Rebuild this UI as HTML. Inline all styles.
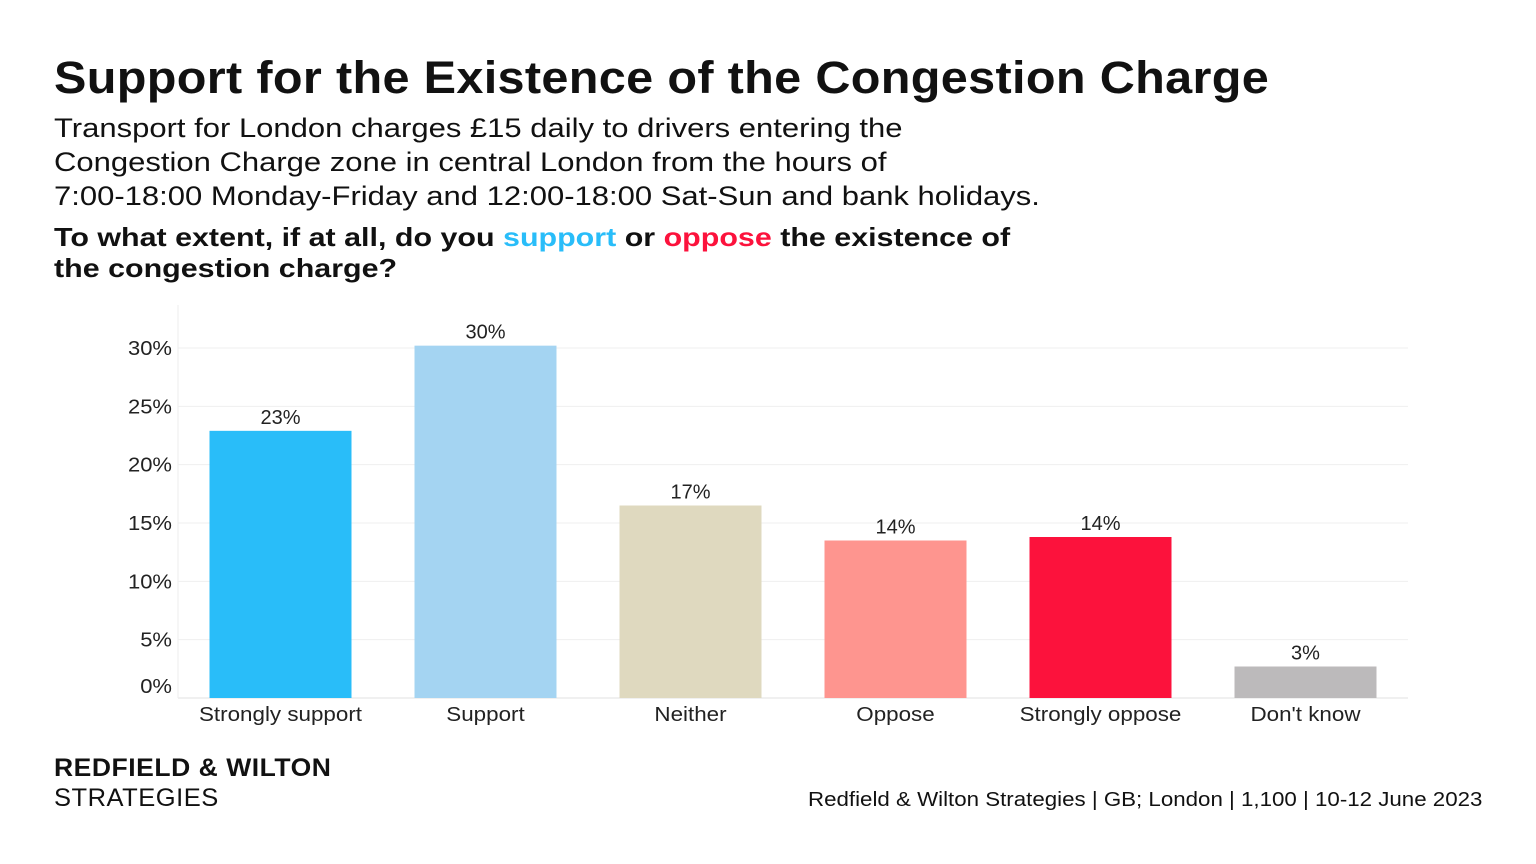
<!DOCTYPE html>
<html><head><meta charset="utf-8">
<style>
body{margin:0;width:1536px;height:864px;background:#fff;font-family:"Liberation Sans",sans-serif;color:#111;position:relative;overflow:hidden}
.t{position:absolute;left:54px;white-space:nowrap;transform-origin:0 0}
</style></head><body>
<div class="t" style="top:52px;font-size:45px;font-weight:bold;letter-spacing:0.3px;transform:scaleX(1.08)">Support for the Existence of the Congestion Charge</div>
<div class="t" style="top:111px;font-size:26.5px;line-height:34px;transform:scaleX(1.17)">Transport for London charges £15 daily to drivers entering the<br>Congestion Charge zone in central London from the hours of<br>7:00-18:00 Monday-Friday and 12:00-18:00 Sat-Sun and bank holidays.</div>
<div class="t" style="top:222px;font-size:26px;font-weight:bold;line-height:31px;transform:scaleX(1.17)">To what extent, if at all, do you <span style="color:#29bdf9">support</span> or <span style="color:#fc123c">oppose</span> the existence of<br>the congestion charge?</div>
<svg id="chart" width="1536" height="864" style="position:absolute;left:0;top:0"></svg>
<div class="t" style="top:754px;font-size:25px;font-weight:bold;letter-spacing:0.5px;transform:scaleX(1.06)">REDFIELD &amp; WILTON</div>
<div class="t" style="top:784px;font-size:25px;letter-spacing:0.5px;transform:scaleX(1.02)">STRATEGIES</div>
<div class="t" style="left:808px;top:789px;font-size:20px;transform:scaleX(1.115)">Redfield &amp; Wilton Strategies | GB; London | 1,100 | 10-12 June 2023</div>
<script>
const categories=["Strongly support","Support","Neither","Oppose","Strongly oppose","Don't know"];
const values=[22.9,30.2,16.5,13.5,13.8,2.7];
const labels=["23%","30%","17%","14%","14%","3%"];
const colors=["#29bdf9","#a4d4f2","#dfd9bf","#fe958f","#fc123c","#bcbabb"];
const ticks=[0,5,10,15,20,25,30];
const NS="http://www.w3.org/2000/svg";
const svg=document.getElementById('chart');
const x0=178,x1=1408,yB=698,yT=348;
const y=v=>yB-(v/30)*(yB-yT);
const band=(x1-x0)/categories.length;
const cx=i=>x0+band*(i+0.5);
function mk(t,a){const e=document.createElementNS(NS,t);for(const k in a)e.setAttribute(k,a[k]);svg.appendChild(e);return e;}
ticks.forEach(t=>{
 const g=mk('line',{x1:x0,x2:x1,y1:y(t),y2:y(t),stroke:t===0?'#e0e0e0':'#efefef','stroke-width':1});
 
 
 const ty=t===0?y(t)-5:y(t)+7;
 const l=mk('text',{x:172,y:ty,'text-anchor':'end','font-size':20,fill:'#222','font-family':'Liberation Sans','transform':`translate(172,0) scale(1.1,1) translate(-172,0)`});
 l.textContent=t+'%';
 
 
});
const ax=mk('line',{x1:x0,x2:x0,y1:305,y2:yB,stroke:'#eee'});


categories.forEach((c,i)=>{
 const w=142;
 const r=mk('rect',{x:cx(i)-w/2,y:y(values[i]),width:w,height:yB-y(values[i]),fill:colors[i]});
 
 
 const v=mk('text',{x:cx(i),y:y(values[i])-7,'text-anchor':'middle','font-size':20,fill:'#222','font-family':'Liberation Sans'});
 v.textContent=labels[i];
 
 
 const xl=mk('text',{x:cx(i),y:721,'text-anchor':'middle','font-size':20,fill:'#222','font-family':'Liberation Sans','transform':`translate(${cx(i)},0) scale(1.12,1) translate(${-cx(i)},0)`});
 xl.textContent=c;
 
 
});
</script>
</body></html>
